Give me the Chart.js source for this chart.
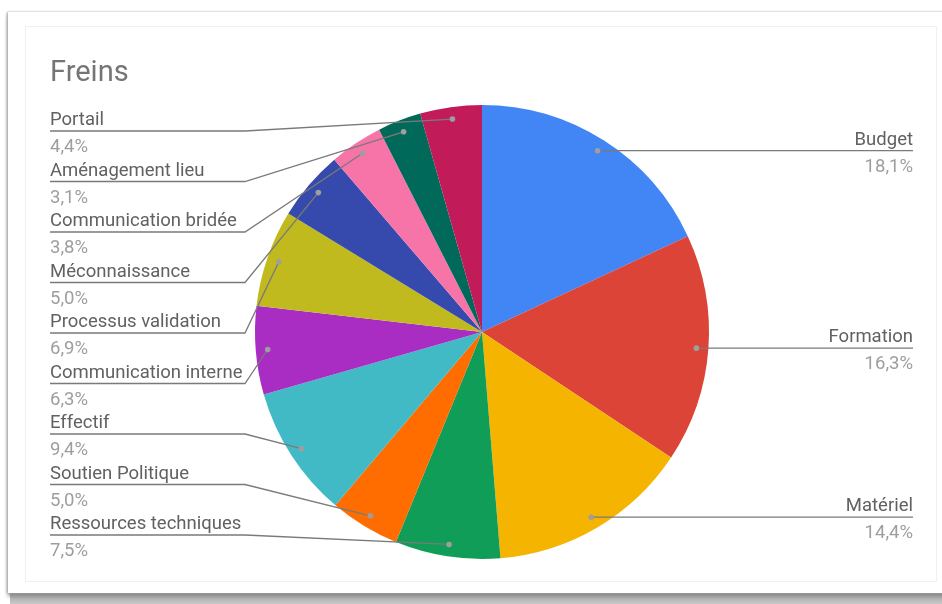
<!DOCTYPE html>
<html>
<head>
<meta charset="utf-8">
<script src="https://cdn.jsdelivr.net/npm/chart.js@4.4.1/dist/chart.umd.min.js"></script>
<style>
  html, body { margin: 0; padding: 0; background: #fff; }
  body { width: 942px; height: 604px; position: relative; overflow: hidden; }
  .shadow { position: absolute; left: 10px; top: 590px; width: 960px; height: 14px;
            background: linear-gradient(#9a9a9a, #c8c8c8); }
  .card { position: absolute; left: 8px; top: 12px; width: 960px; height: 581px; background: #fff;
          box-shadow: -1px 0 2px #aaa, 0 3px 4px #888; }
  .inner { position: absolute; left: 25px; top: 26px; width: 910px; height: 554px; border: 1px solid #f0f0f0; }
  canvas { position: absolute; left: 0; top: 0; }
</style>
</head>
<body>
<div class="shadow"></div>
<div class="card"></div>
<div class="inner"></div>
<canvas id="myChart" width="942" height="604"></canvas>
<script>
const categories = ['Budget', 'Formation', 'Matériel', 'Ressources techniques', 'Soutien Politique', 'Effectif',
  'Communication interne', 'Processus validation', 'Méconnaissance', 'Communication bridée', 'Aménagement lieu', 'Portail'];
const shares = [18.1, 16.3, 14.4, 7.5, 5.0, 9.4, 6.3, 6.9, 5.0, 3.8, 3.1, 4.4];
const colors = ['#4285f4', '#db4437', '#f4b400', '#0f9d58', '#ff6d00', '#42bac6',
  '#a92dc2', '#c0ba1f', '#3649ac', '#f774a9', '#00695a', '#c21b5a'];

const total = shares.reduce((a, b) => a + b, 0);
const pct = v => (v / total * 100).toFixed(1).replace('.', ',') + '%';

// leader lines + outside labels
const labelPlugin = {
  id: 'outLabels',
  afterDatasetsDraw(chart) {
    const ctx = chart.ctx;
    const arcs = chart.getDatasetMeta(0).data;
    ctx.save();
    ctx.font = '29px Roboto';
    ctx.fillStyle = '#757575';
    ctx.textBaseline = 'alphabetic';
    ctx.textAlign = 'left';
    ctx.fillText('Freins', 50, 81);

    const left = [];
    arcs.forEach((arc, i) => {
      const p = arc.getProps(['x', 'y', 'startAngle', 'endAngle', 'outerRadius'], true);
      const mid = (p.startAngle + p.endAngle) / 2;
      const r = p.outerRadius - 12;
      const dx = p.x + Math.cos(mid) * r, dy = p.y + Math.sin(mid) * r;
      const deg = (mid + Math.PI / 2) * 180 / Math.PI;
      if (deg < 180) {
        drawLine([[dx, dy], [913, dy]]);
        dot(dx, dy);
        text(categories[i], pct(shares[i]), 913, dy, 'right');
      } else {
        left.push({ i, dx, dy });
      }
    });
    left.reverse().forEach((o, row) => {
      const ly = 131 + row * 50.5;
      drawLine([[50, ly], [245, ly], [o.dx, o.dy]]);
      dot(o.dx, o.dy);
      text(categories[o.i], pct(shares[o.i]), 50, ly, 'left');
    });
    ctx.restore();

    function drawLine(pts) {
      ctx.beginPath();
      ctx.strokeStyle = '#7a7a7a';
      ctx.lineWidth = 1.3;
      pts.forEach((q, k) => k ? ctx.lineTo(q[0], q[1]) : ctx.moveTo(q[0], q[1]));
      ctx.stroke();
    }
    function dot(x, y) {
      ctx.beginPath();
      ctx.fillStyle = '#9e9e9e';
      ctx.arc(x, y, 2.8, 0, Math.PI * 2);
      ctx.fill();
    }
    function text(name, val, x, y, align) {
      ctx.textAlign = align;
      ctx.font = '18.5px Roboto';
      ctx.fillStyle = '#616161';
      ctx.fillText(name, x, y - 6);
      ctx.fillStyle = '#9e9e9e';
      ctx.fillText(val, x, y + 21);
    }
  }
};

const ctx = document.getElementById('myChart').getContext('2d');
new Chart(ctx, {
  type: 'pie',
  data: {
    labels: categories,
    datasets: [{
      data: shares,
      backgroundColor: colors,
      borderWidth: 0
    }]
  },
  options: {
    responsive: false,
    animation: false,
    layout: { padding: { left: 255, right: 233, top: 105, bottom: 45 } },
    plugins: {
      legend: { display: false },
      tooltip: { enabled: false }
    }
  },
  plugins: [labelPlugin]
});
</script>
</body>
</html>
